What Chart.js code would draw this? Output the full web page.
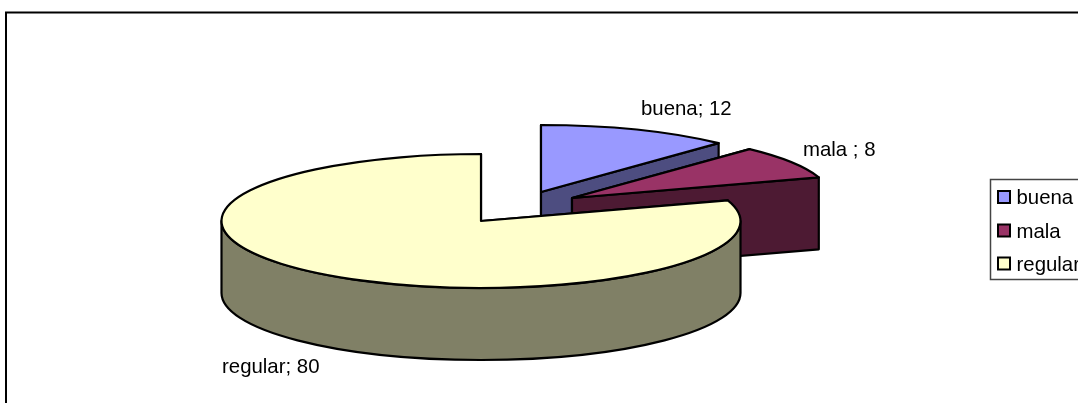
<!DOCTYPE html>
<html>
<head>
<meta charset="utf-8">
<script src="https://cdn.jsdelivr.net/npm/chart.js@4"></script>
<style>
html,body{margin:0;padding:0;background:#fff;overflow:hidden}
#wrap{width:1078px;height:403px;overflow:hidden}
canvas{display:block}
</style>
</head>
<body>
<div id="wrap"><canvas id="c" width="1078" height="403"></canvas></div>
<script>
const categories = ['buena', 'mala ', 'regular'];
const values = [12, 8, 80];
const topColors = ['#9999FF', '#993366', '#FFFFCC'];
const sideColors = ['#4D4D80', '#4D1A33', '#808066'];

// 3D look
const TILT = 67 / 259.5, DEPTH = 72, FONT = '20.4px "Liberation Sans", Arial, sans-serif';
const explode = [[60, -29], [91, -23], [0, 0]];
const labelAnchors = [[641, 115], [803, 156], [222, 373]];
const legendBox = {x: 990.5, y: 179.5, rows: [197, 230.5, 263.5]};

const pie3d = {
  id: 'pie3d',
  beforeDraw(chart) {
    const ctx = chart.ctx;
    ctx.save();
    ctx.fillStyle = '#fff';
    ctx.fillRect(0, 0, chart.width, chart.height);
    ctx.strokeStyle = '#000';
    ctx.lineWidth = 2;
    ctx.strokeRect(6, 12.5, chart.width + 20, chart.height + 20);
    ctx.restore();
  },
  beforeDatasetsDraw(chart) {
    const ctx = chart.ctx;
    const arcs = chart.getDatasetMeta(0).data;
    ctx.save();
    ctx.lineWidth = 2.2;
    ctx.strokeStyle = '#000';
    ctx.lineJoin = 'round';
    arcs.forEach((arc, i) => {
      const {x, y, startAngle: a0, endAngle: a1, outerRadius: r} = arc.getProps(['x', 'y', 'startAngle', 'endAngle', 'outerRadius'], true);
      const cx = x + explode[i][0], cy = y + explode[i][1], ry = r * TILT;
      const px = a => cx + r * Math.cos(a), py = a => cy + ry * Math.sin(a);
      // radial cut faces
      ctx.fillStyle = sideColors[i];
      [a0, a1].forEach(a => {
        ctx.beginPath();
        ctx.moveTo(cx, cy);
        ctx.lineTo(px(a), py(a));
        ctx.lineTo(px(a), py(a) + DEPTH);
        ctx.lineTo(cx, cy + DEPTH);
        ctx.closePath();
        ctx.fill();
        ctx.stroke();
      });
      // outer wall (front half only)
      const w0 = Math.max(a0, 0), w1 = Math.min(a1, Math.PI);
      if (w1 > w0) {
        ctx.beginPath();
        ctx.ellipse(cx, cy, r, ry, 0, w0, w1);
        ctx.ellipse(cx, cy + DEPTH, r, ry, 0, w1, w0, true);
        ctx.closePath();
        ctx.fill();
        ctx.stroke();
      }
      // top face
      ctx.fillStyle = topColors[i];
      ctx.beginPath();
      ctx.moveTo(cx, cy);
      ctx.ellipse(cx, cy, r, ry, 0, a0, a1);
      ctx.closePath();
      ctx.fill();
      ctx.stroke();
    });
    ctx.restore();
    return false;
  },
  afterDraw(chart) {
    const ctx = chart.ctx;
    const labels = chart.data.labels, data = chart.data.datasets[0].data;
    ctx.save();
    ctx.font = FONT;
    ctx.fillStyle = '#000';
    ctx.textBaseline = 'alphabetic';
    ctx.textAlign = 'left';
    labels.forEach((l, i) => {
      ctx.fillText(l + '; ' + data[i], labelAnchors[i][0], labelAnchors[i][1]);
    });
    // legend
    ctx.strokeStyle = '#444';
    ctx.lineWidth = 1.5;
    ctx.fillStyle = '#fff';
    ctx.beginPath();
    ctx.rect(legendBox.x, legendBox.y, chart.width + 20 - legendBox.x, 100);
    ctx.fill();
    ctx.stroke();
    labels.forEach((l, i) => {
      const cy = legendBox.rows[i];
      ctx.fillStyle = topColors[i];
      ctx.strokeStyle = '#000';
      ctx.lineWidth = 2;
      ctx.fillRect(998, cy - 6, 12, 12);
      ctx.strokeRect(998, cy - 6, 12, 12);
      ctx.fillStyle = '#000';
      ctx.textBaseline = 'alphabetic';
      ctx.fillText(l.trim(), 1016.5, cy + 7);
    });
    ctx.restore();
  }
};

new Chart(document.getElementById('c'), {
  type: 'pie',
  data: {
    labels: categories,
    datasets: [{data: values, backgroundColor: topColors, radius: 259.5}]
  },
  options: {
    responsive: false,
    animation: false,
    layout: {padding: {left: 0, right: 116, top: 39, bottom: 0}},
    plugins: {legend: {display: false}, tooltip: {enabled: false}}
  },
  plugins: [pie3d]
});
</script>
</body>
</html>
